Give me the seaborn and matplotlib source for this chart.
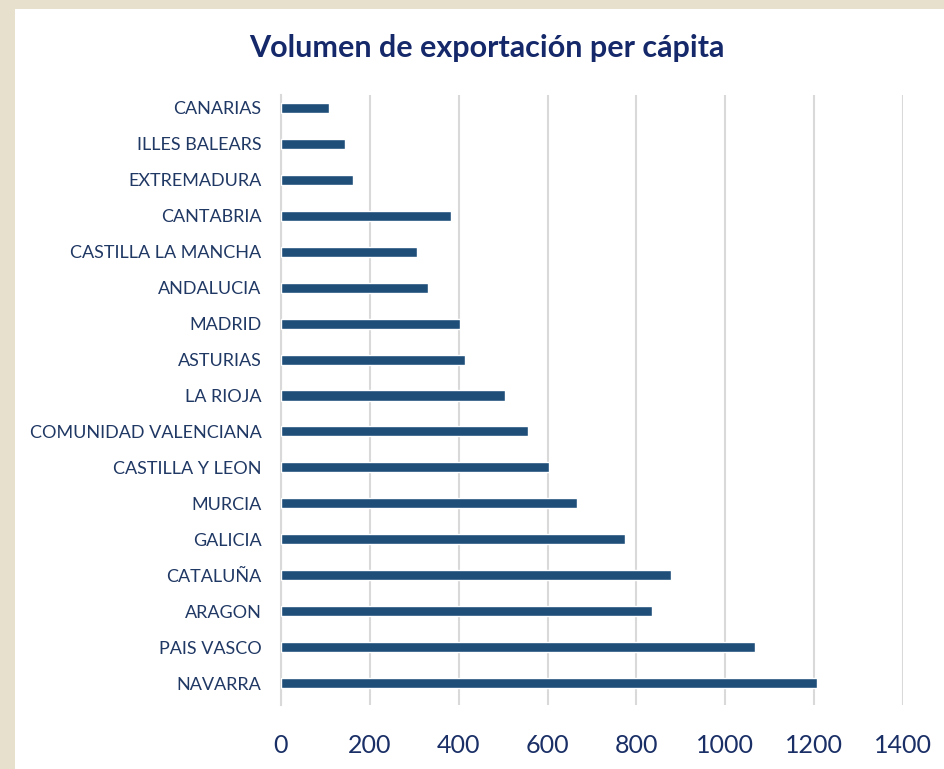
import pandas as pd
import matplotlib.pyplot as plt
import seaborn as sns
from matplotlib.patches import Rectangle

# datos (de arriba a abajo)
regiones = ["CANARIAS", "ILLES BALEARS", "EXTREMADURA", "CANTABRIA",
            "CASTILLA LA MANCHA", "ANDALUCIA", "MADRID", "ASTURIAS",
            "LA RIOJA", "COMUNIDAD VALENCIANA", "CASTILLA Y LEON", "MURCIA",
            "GALICIA", "CATALUÑA", "ARAGON", "PAIS VASCO", "NAVARRA"]
valores = [109, 145, 163, 383, 305, 330, 403, 415, 505, 555, 604, 667,
           774, 877, 835, 1066, 1207]
ticks_x = [0, 200, 400, 600, 800, 1000, 1200, 1400]

df = pd.DataFrame({"region": regiones, "valor": valores})

sns.set_style("white")
plt.rcParams["font.family"] = ["Lato", "DejaVu Sans"]

fig = plt.figure(figsize=(9.44, 7.69), dpi=100)
fig.patch.set_facecolor("#e7e0cd")
# panel blanco
fig.patches.append(Rectangle((15 / 944, 0), 1, 1 - 9 / 769, transform=fig.transFigure,
                             facecolor="white", edgecolor="none", zorder=-5))

ax = fig.add_axes([281 / 944, 1 - 705 / 769, (903 - 281) / 944, 610 / 769])
ax.set_facecolor("none")

sns.barplot(data=df, y="region", x="valor", order=regiones, orient="h",
            color="#1f4e79", width=0.28, saturation=1, ax=ax, zorder=3)

ax.set_xlim(0, 1400)
ax.set_ylim(16.61, -0.36)
ax.set_xticks(ticks_x)
ax.grid(axis="x", color="#d9d9d9", linewidth=1.5, zorder=0)
ax.grid(axis="y", visible=False)
for s in ["top", "right", "bottom"]:
    ax.spines[s].set_visible(False)
ax.spines["left"].set_color("#d9d9d9")
ax.spines["left"].set_linewidth(1.5)

ax.set_xlabel("")
ax.set_ylabel("")
ax.tick_params(axis="y", length=0, pad=14, labelsize=13, labelcolor="#203864")
ax.tick_params(axis="x", length=0, pad=21, labelsize=18, labelcolor="#1a2f66")

fig.text(487 / 944, 1 - 48 / 769, "Volumen de exportación per cápita",
         ha="center", va="center", fontsize=22, fontweight="bold", color="#15296a")

plt.savefig("out.png", dpi=100)
